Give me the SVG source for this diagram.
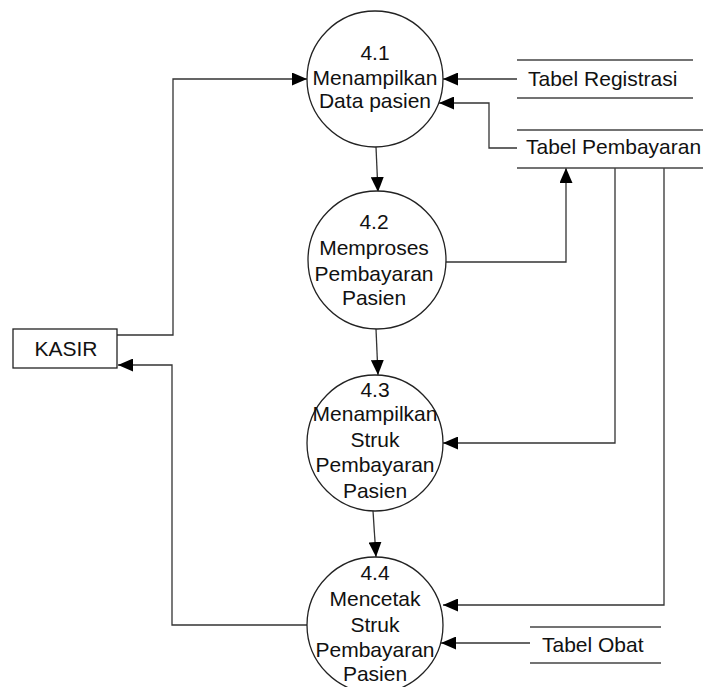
<svg xmlns="http://www.w3.org/2000/svg" width="703" height="687" viewBox="0 0 703 687">
  <style>
    .bg { fill: #ffffff; }
    .proc { fill: #ffffff; stroke: #222; stroke-width: 1.3; }
    .ent { fill: #ffffff; stroke: #222; stroke-width: 1.3; }
    .store { stroke: #444; stroke-width: 1.5; fill: none; }
    .flow { fill: none; stroke: #333; stroke-width: 1.3; }
    .lbl { font-family: "Liberation Sans", Arial, sans-serif; font-size: 21px; fill: #111; text-anchor: middle; }
    .lbls { font-family: "Liberation Sans", Arial, sans-serif; font-size: 21px; fill: #111; }
  </style>
  <defs>
    <marker id="arr" markerWidth="15" markerHeight="13" refX="15" refY="6.5" orient="auto" markerUnits="userSpaceOnUse">
      <path d="M0,0 L15,6.5 L0,13 z" fill="#000"/>
    </marker>
  </defs>
  <rect class="bg" x="0" y="0" width="703" height="687"/>

  <!-- data flows -->
  <g id="connectors">
    <!-- KASIR -> 4.1 -->
    <polyline class="flow" points="117,335 173,335 173,79 307,79" marker-end="url(#arr)"/>
    <!-- 4.4 -> KASIR -->
    <polyline class="flow" points="307,625 172,625 172,365 118,365" marker-end="url(#arr)"/>
    <!-- Tabel Registrasi -> 4.1 -->
    <line class="flow" x1="517" y1="79" x2="443" y2="79" marker-end="url(#arr)"/>
    <!-- Tabel Pembayaran -> 4.1 -->
    <polyline class="flow" points="517,148 489,148 489,103 439,103" marker-end="url(#arr)"/>
    <!-- 4.1 -> 4.2 -->
    <line class="flow" x1="376" y1="147" x2="378" y2="192" marker-end="url(#arr)"/>
    <!-- 4.2 -> Tabel Pembayaran -->
    <polyline class="flow" points="446,262 566,262 566,168" marker-end="url(#arr)"/>
    <!-- 4.2 -> 4.3 -->
    <line class="flow" x1="376" y1="329" x2="378" y2="375" marker-end="url(#arr)"/>
    <!-- Tabel Pembayaran -> 4.3 -->
    <polyline class="flow" points="615,168 615,443 443,443" marker-end="url(#arr)"/>
    <!-- 4.3 -> 4.4 -->
    <line class="flow" x1="373" y1="511" x2="376" y2="557" marker-end="url(#arr)"/>
    <!-- Tabel Pembayaran -> 4.4 -->
    <polyline class="flow" points="664,168 664,605 443,605" marker-end="url(#arr)"/>
    <!-- Tabel Obat -> 4.4 -->
    <line class="flow" x1="530" y1="643" x2="441" y2="643" marker-end="url(#arr)"/>
  </g>

  <!-- external entity -->
  <g id="kasir">
    <rect class="ent" x="13" y="329" width="104" height="39"/>
    <text class="lbl" x="66" y="356">KASIR</text>
  </g>

  <!-- processes -->
  <g id="p41">
    <circle class="proc" cx="375" cy="79" r="68"/>
    <text class="lbl" x="375" y="60">4.1</text>
    <text class="lbl" x="375" y="85">Menampilkan</text>
    <text class="lbl" x="375" y="108">Data pasien</text>
  </g>
  <g id="p42">
    <circle class="proc" cx="377" cy="260" r="69"/>
    <text class="lbl" x="374" y="229">4.2</text>
    <text class="lbl" x="374" y="255">Memproses</text>
    <text class="lbl" x="374" y="281">Pembayaran</text>
    <text class="lbl" x="374" y="305">Pasien</text>
  </g>
  <g id="p43">
    <circle class="proc" cx="375" cy="443" r="68"/>
    <text class="lbl" x="375" y="397">4.3</text>
    <text class="lbl" x="375" y="421">Menampilkan</text>
    <text class="lbl" x="375" y="447">Struk</text>
    <text class="lbl" x="375" y="472">Pembayaran</text>
    <text class="lbl" x="375" y="498">Pasien</text>
  </g>
  <g id="p44">
    <circle class="proc" cx="375" cy="625" r="68"/>
    <text class="lbl" x="375" y="580">4.4</text>
    <text class="lbl" x="375" y="606">Mencetak</text>
    <text class="lbl" x="375" y="632">Struk</text>
    <text class="lbl" x="375" y="657">Pembayaran</text>
    <text class="lbl" x="375" y="681">Pasien</text>
  </g>

  <!-- data stores -->
  <g id="tabel-registrasi">
    <line class="store" x1="517" y1="60" x2="693" y2="60"/>
    <line class="store" x1="517" y1="98" x2="693" y2="98"/>
    <text class="lbls" x="528" y="86">Tabel Registrasi</text>
  </g>
  <g id="tabel-pembayaran">
    <line class="store" x1="517" y1="130" x2="703" y2="130"/>
    <line class="store" x1="517" y1="168" x2="703" y2="168"/>
    <text class="lbls" x="526" y="154">Tabel Pembayaran</text>
  </g>
  <g id="tabel-obat">
    <line class="store" x1="530" y1="627" x2="661" y2="627"/>
    <line class="store" x1="530" y1="663" x2="661" y2="663"/>
    <text class="lbls" x="542" y="652">Tabel Obat</text>
  </g>
</svg>
